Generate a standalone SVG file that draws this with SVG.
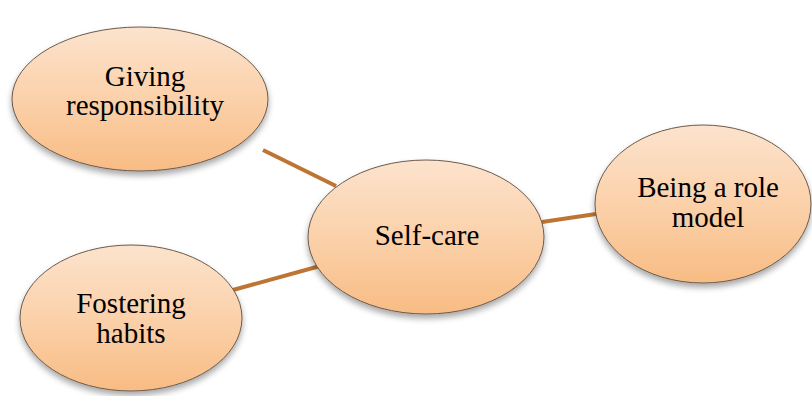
<svg xmlns="http://www.w3.org/2000/svg" width="812" height="396" viewBox="0 0 812 396">
<defs>
<linearGradient id="g" x1="0" y1="0" x2="0" y2="1">
<stop offset="0" stop-color="#FCE3CD"/>
<stop offset="0.5" stop-color="#FBD1AA"/>
<stop offset="1" stop-color="#F8BC84"/>
</linearGradient>
<filter id="sh" x="-20%" y="-20%" width="140%" height="150%">
<feGaussianBlur in="SourceAlpha" stdDeviation="3"/>
<feOffset dx="0" dy="4" result="b"/>
<feComponentTransfer><feFuncA type="linear" slope="0.35"/></feComponentTransfer>
<feMerge><feMergeNode/><feMergeNode in="SourceGraphic"/></feMerge>
</filter>
</defs>
<style>
.n{fill:url(#g);stroke:#6b5a4a;stroke-width:1;filter:url(#sh)}
.t{font-family:"Liberation Serif","Times New Roman",serif;font-size:29px;fill:#000;text-anchor:middle}
.c{stroke:#BE7533;stroke-width:4;fill:none}
</style>
<rect width="812" height="396" fill="#fff"/>
<g id="connectors">
<line class="c" x1="263" y1="150" x2="336" y2="186"/>
<line class="c" x1="233" y1="290" x2="320" y2="266"/>
<line class="c" x1="542" y1="222" x2="596" y2="214"/>
</g>
<g id="giving">
<ellipse class="n" cx="140" cy="99" rx="128" ry="72"/>
<text class="t" x="145" y="86">Giving</text>
<text class="t" x="145" y="115">responsibility</text>
</g>
<g id="selfcare">
<ellipse class="n" cx="426" cy="237" rx="118" ry="77"/>
<text class="t" x="427" y="245">Self-care</text>
</g>
<g id="rolemodel">
<ellipse class="n" cx="703" cy="204" rx="108" ry="79"/>
<text class="t" x="708" y="197">Being a role</text>
<text class="t" x="708" y="227">model</text>
</g>
<g id="fostering">
<ellipse class="n" cx="131" cy="318" rx="111" ry="73"/>
<text class="t" x="131" y="313">Fostering</text>
<text class="t" x="131" y="343">habits</text>
</g>
</svg>
